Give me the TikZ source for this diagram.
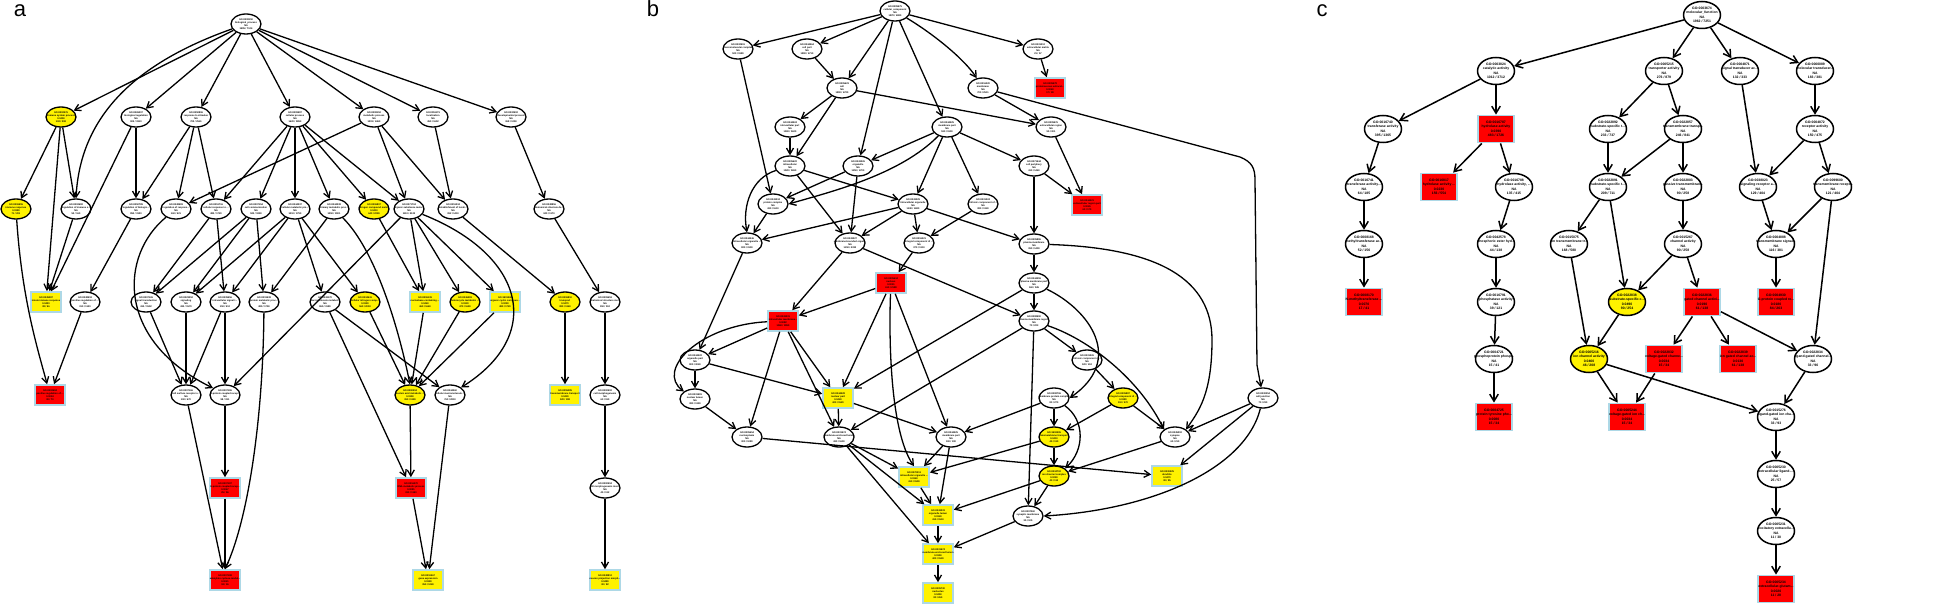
\documentclass[tikz,border=0pt]{standalone}
\usepackage{fontspec}
\setmainfont{Liberation Sans}
\usetikzlibrary{shapes.geometric,arrows.meta}
\definecolor{lblue}{RGB}{173,216,230}
\newcommand{\ga}[8]{\node[#1,label={[ta]center:{#5\\#6\\#7\\#8}}] (#2) at (#3,#4) {};}
\newcommand{\gc}[8]{\node[#1,label={[tc]center:{#5\\#6\\#7\\#8}}] (#2) at (#3,#4) {};}
\tikzset{
 ed/.style={-{Straight Barb[length=6pt,width=7pt]}, line width=1.3pt},
 edc/.style={-{Straight Barb[length=7pt,width=8.5pt]}, line width=1.5pt},
 ov/.style={ellipse, draw, line width=1.3pt, fill=white, minimum width=30pt, minimum height=20pt, inner sep=0pt},
 ovy/.style={ov, fill=yellow},
 rb/.style={rectangle, draw=lblue, line width=1.6pt, fill=red, minimum width=30pt, minimum height=20pt, inner sep=0pt},
 yb/.style={rb, fill=yellow},
 ovc/.style={ov, line width=1.5pt, minimum width=37pt, minimum height=27pt},
 ovcy/.style={ovc, fill=yellow},
 rbc/.style={rb, line width=1.8pt, minimum width=36pt, minimum height=27pt},
 ta/.style={font=\fontsize{2.4}{3.0}\selectfont\bfseries, align=center, inner sep=0pt},
 tc/.style={font=\fontsize{3.4}{4.4}\selectfont\bfseries, align=center, inner sep=0pt},
 plab/.style={font=\fontsize{22}{22}\selectfont, anchor=base, inner sep=0pt}
}
\begin{document}
\begin{tikzpicture}[x=1pt,y=-1pt]
\fill[white] (0,0) rectangle (1947,604);
\useasboundingbox (0,0) rectangle (1947,604);
\node[plab] (la) at (20,17) {a};
\node[plab] (lb) at (653,17) {b};
\node[plab] (lc) at (1322,17) {c};
% ---------------- panel a ----------------
\ga{ov}{aR}{246}{24}{GO:0008150}{biological\_process}{NA}{1985 / 7124}
\ga{ovy}{a2a}{61}{117}{GO:0002376}{immune system process}{0.0450}{102 / 298}
\ga{ov}{a2b}{136}{117}{GO:0065007}{biological regulation}{NA}{903 / 3310}
\ga{ov}{a2c}{196}{117}{GO:0050896}{response to stimulus}{NA}{702 / 2541}
\ga{ov}{a2d}{295}{117}{GO:0009987}{cellular process}{NA}{1620 / 5893}
\ga{ov}{a2e}{374}{117}{GO:0008152}{metabolic process}{NA}{1203 / 4460}
\ga{ov}{a2f}{433}{117}{GO:0051179}{localization}{NA}{450 / 1602}
\ga{ov}{a2g}{511}{117}{GO:0032502}{developmental process}{NA}{368 / 1250}
\ga{ovy}{a3a}{16}{209}{GO:0006955}{immune response}{0.0380}{71 / 201}
\ga{ov}{a3b}{76}{209}{GO:0002682}{regulation of immune s...}{NA}{52 / 160}
\ga{ov}{a3c}{136}{209}{GO:0050789}{regulation of biologic...}{NA}{850 / 3120}
\ga{ov}{a3d}{176}{209}{GO:0048583}{regulation of respons...}{NA}{160 / 521}
\ga{ov}{a3e}{216}{209}{GO:0051716}{cellular response to ...}{NA}{480 / 1720}
\ga{ov}{a3f}{256}{209}{GO:0007154}{cell communication}{NA}{520 / 1890}
\ga{ov}{a3g}{295}{209}{GO:0044237}{cellular metabolic pro...}{NA}{1010 / 3790}
\ga{ov}{a3h}{334}{209}{GO:0044238}{primary metabolic proc...}{NA}{1050 / 3901}
\ga{ovy}{a3i}{374}{209}{GO:0006807}{nitrogen compound meta...}{0.0410}{640 / 2299}
\ga{ov}{a3j}{409}{209}{GO:0071704}{organic substance meta...}{NA}{1110 / 4120}
\ga{ov}{a3k}{453}{209}{GO:0051234}{establishment of locali...}{NA}{392 / 1410}
\ga{ov}{a3l}{549}{209}{GO:0048856}{anatomical structure de...}{NA}{340 / 1170}
\ga{yb}{a4a}{46}{302}{GO:0045087}{innate immune response}{0.0420}{38 / 96}
\ga{ov}{a4b}{85}{302}{GO:0048518}{positive regulation of ...}{NA}{310 / 1100}
\ga{ov}{a4c}{146}{302}{GO:0007165}{signal transduction}{NA}{410 / 1502}
\ga{ov}{a4d}{186}{302}{GO:0023052}{signaling}{NA}{430 / 1570}
\ga{ov}{a4e}{225}{302}{GO:0035556}{intracellular signal t...}{NA}{150 / 512}
\ga{ov}{a4f}{264}{302}{GO:0019538}{protein metabolic proc...}{NA}{480 / 1750}
\ga{ov}{a4g}{325}{302}{GO:0043170}{macromolecule metabol...}{NA}{860 / 3180}
\ga{ovy}{a4h}{365}{302}{GO:0034641}{cellular nitrogen comp...}{0.0390}{560 / 2003}
\ga{yb}{a4i}{425}{302}{GO:0006139}{nucleobase-containing ...}{0.0460}{460 / 1660}
\ga{ovy}{a4j}{465}{302}{GO:0046483}{heterocycle metabolic ...}{0.0330}{470 / 1690}
\ga{yb}{a4k}{505}{302}{GO:1901360}{organic cyclic compoun...}{0.0290}{480 / 1720}
\ga{ovy}{a4l}{565}{302}{GO:0006810}{transport}{0.0470}{380 / 1360}
\ga{ov}{a4m}{605}{302}{GO:0009653}{anatomical structure mo...}{NA}{150 / 512}
\ga{rb}{a5a}{50}{395}{GO:0002684}{positive regulation of ...}{0.0094}{30 / 70}
\ga{ov}{a5b}{186}{395}{GO:0007166}{cell surface receptor s...}{NA}{190 / 670}
\ga{ov}{a5c}{225}{395}{GO:0007186}{G-protein coupled recep...}{NA}{98 / 331}
\ga{ovy}{a5d}{410}{395}{GO:0090304}{nucleic acid metabolic ...}{0.0350}{390 / 1399}
\ga{ov}{a5e}{450}{395}{GO:0044260}{cellular macromolecule ...}{NA}{760 / 2810}
\ga{yb}{a5f}{565}{395}{GO:0055085}{transmembrane transport}{0.0430}{120 / 398}
\ga{ov}{a5g}{605}{395}{GO:0000902}{cell morphogenesis}{NA}{60 / 190}
\ga{rb}{a6a}{225}{488}{GO:0007187}{G-protein coupled recep...}{0.0067}{25 / 56}
\ga{rb}{a6b}{411}{488}{GO:0016070}{RNA metabolic process}{0.0081}{330 / 1150}
\ga{ov}{a6c}{605}{488}{GO:0000904}{cell morphogenesis invo...}{NA}{45 / 132}
\ga{rb}{a7a}{225}{580}{GO:0007188}{adenylate cyclase-modul...}{0.0021}{18 / 36}
\ga{yb}{a7b}{428}{580}{GO:0010467}{gene expression}{0.0390}{350 / 1240}
\ga{yb}{a7c}{605}{580}{GO:0048812}{neuron projection morph...}{0.0480}{30 / 82}
\foreach \s/\t in {aR/a2a,aR/a2b,aR/a2c,aR/a2d,aR/a2e,aR/a2f,aR/a2g,
 a2a/a3a,a2a/a3b,a2a/a4a,a2b/a3c,a2b/a4a,a2c/a3c,a2c/a3d,a2c/a3e,
 a2d/a3e,a2d/a3f,a2d/a3g,a2d/a3h,a2d/a3i,a2d/a3j,a2e/a3d,a2e/a3j,a2e/a3k,
 a2f/a3k,a2g/a3l,a3b/a4a,a3c/a4b,a3e/a4c,a3e/a4e,a3f/a4c,a3f/a4d,a3f/a4f,
 a3g/a4d,a3g/a4e,a3g/a4g,a3g/a4h,a3h/a4f,a3i/a4i,a3j/a4i,a3j/a4j,a3j/a4k,a3j/a5c,
 a3k/a4l,a3l/a4m,a4b/a5a,a4c/a5b,a4d/a5b,a4e/a5b,a4e/a5c,a4g/a6b,a4g/a5e,
 a4h/a5d,a4i/a5d,a4j/a5d,a4k/a5d,a4l/a5f,a4m/a5g,a5b/a7a,a5c/a6a,a6a/a7a,
 a5d/a6b,a5e/a7b,a6b/a7b,a5g/a6c,a6c/a7c}
 \draw[ed] (\s) -- (\t);
\draw[ed] (aR) .. controls (130,65) and (80,120) .. (a3b.north);
\draw[ed] (a3d) .. controls (120,255) and (115,340) .. (a5c.150);
\draw[ed] (a4f) .. controls (263,420) and (248,520) .. (a7a.north);
\draw[ed] (a3j) .. controls (525,255) and (545,335) .. (a5e.north east);
\draw[ed] (a3h) .. controls (375,250) and (398,325) .. (a5d.north);
\draw[ed] (a3a) .. controls (22,300) and (38,350) .. (a5a);
% ---------------- panel b ----------------
\ga{ov}{bR}{895}{11}{GO:0005575}{cellular\_component}{NA}{1870 / 6980}
\ga{ov}{b2a}{738}{49}{GO:0032991}{macromolecular complex}{NA}{520 / 1980}
\ga{ov}{b2b}{807}{49}{GO:0044464}{cell part}{NA}{1800 / 6710}
\ga{ov}{b2c}{1038}{49}{GO:0031012}{extracellular matrix}{NA}{21 / 57}
\ga{ov}{b3a}{842}{88}{GO:0005623}{cell}{NA}{1800 / 6720}
\ga{ov}{b3b}{983}{88}{GO:0016020}{membrane}{NA}{700 / 2511}
\ga{rb}{b3c}{1050}{88}{GO:0005578}{proteinaceous extracel...}{0.0060}{17 / 38}
\ga{ov}{b4a}{790}{127}{GO:0044424}{intracellular part}{NA}{1500 / 5620}
\ga{ov}{b4b}{947}{127}{GO:0044425}{membrane part}{NA}{530 / 1900}
\ga{ov}{b4c}{1051}{127}{GO:0005576}{extracellular region}{NA}{95 / 301}
\ga{ov}{b5a}{790}{166}{GO:0005622}{intracellular}{NA}{1520 / 5690}
\ga{ov}{b5b}{858}{166}{GO:0043226}{organelle}{NA}{1250 / 4700}
\ga{ov}{b5c}{1034}{166}{GO:0071944}{cell periphery}{NA}{410 / 1460}
\ga{ov}{b6a}{773}{204}{GO:0043234}{protein complex}{NA}{430 / 1610}
\ga{ov}{b6b}{913}{204}{GO:0043229}{intracellular organelle}{NA}{1240 / 4680}
\ga{ov}{b6c}{983}{204}{GO:0031224}{intrinsic component of ...}{NA}{380 / 1340}
\ga{rb}{b6d}{1087}{205}{GO:0044421}{extracellular region part}{0.0045}{60 / 170}
\ga{ov}{b7a}{747}{243}{GO:0044446}{intracellular organelle ...}{NA}{820 / 3100}
\ga{ov}{b7b}{850}{243}{GO:0043227}{membrane-bounded organ...}{NA}{1150 / 4330}
\ga{ov}{b7c}{919}{243}{GO:0016021}{integral component of ...}{NA}{370 / 1310}
\ga{ov}{b7d}{1034}{244}{GO:0005886}{plasma membrane}{NA}{390 / 1400}
\ga{rb}{b8a}{891}{283}{GO:0005634}{nucleus}{0.0091}{610 / 2188}
\ga{ov}{b8b}{1034}{283}{GO:0044459}{plasma membrane part}{NA}{160 / 545}
\ga{rb}{b9a}{783}{321}{GO:0043231}{intracellular membrane...}{0.0082}{1060 / 3890}
\ga{ov}{b9b}{1034}{321}{GO:0098590}{plasma membrane region}{NA}{70 / 223}
\ga{ov}{b10a}{695}{360}{GO:0044422}{organelle part}{NA}{800 / 3040}
\ga{ov}{b10b}{1087}{360}{GO:0031226}{intrinsic component of ...}{NA}{120 / 412}
\ga{ov}{b11a}{695}{399}{GO:0031981}{nuclear lumen}{NA}{380 / 1390}
\ga{yb}{b11b}{838}{398}{GO:0044428}{nuclear part}{0.0440}{420 / 1520}
\ga{ov}{b11c}{1054}{398}{GO:0098796}{membrane protein complex}{NA}{80 / 270}
\ga{ovy}{b11d}{1123}{398}{GO:0005887}{integral component of ...}{0.0380}{110 / 370}
\ga{ov}{b11e}{1263}{398}{GO:0030054}{cell junction}{NA}{70 / 230}
\ga{ov}{b12a}{747}{437}{GO:0005654}{nucleoplasm}{NA}{300 / 1080}
\ga{ov}{b12b}{839}{437}{GO:0031974}{membrane-enclosed lumen}{NA}{430 / 1600}
\ga{ov}{b12c}{951}{437}{GO:0044425}{membrane part}{NA}{100 / 330}
\ga{ovy}{b12d}{1054}{437}{GO:1902495}{transmembrane transpor...}{0.0410}{45 / 130}
\ga{ov}{b12e}{1175}{437}{GO:0045202}{synapse}{NA}{65 / 210}
\ga{yb}{b13a}{914}{477}{GO:0070013}{intracellular organelle ...}{0.0360}{410 / 1500}
\ga{ovy}{b13b}{1054}{476}{GO:0034702}{ion channel complex}{0.0290}{40 / 110}
\ga{yb}{b13c}{1167}{476}{GO:0030425}{dendrite}{0.0470}{30 / 85}
\ga{yb}{b14a}{938}{515}{GO:0043233}{organelle lumen}{0.0340}{415 / 1510}
\ga{ov}{b14b}{1028}{516}{GO:0097060}{synaptic membrane}{NA}{35 / 105}
\ga{yb}{b15a}{938}{554}{GO:0031974}{membrane-enclosed lumen}{0.0350}{420 / 1530}
\ga{yb}{b16a}{938}{593}{GO:0005730}{nucleolus}{0.0450}{80 / 260}
\foreach \s/\t in {bR/b2a,bR/b2b,bR/b3a,bR/b5b,bR/b4b,bR/b2c,
 b2a/b6a,b2b/b3a,b3a/b4a,b3a/b5a,b3a/b4c,b2c/b3c,b3b/b4c,
 b4b/b5b,b4b/b6b,b4b/b6c,b4b/b5c,b4a/b5a,b4c/b6d,b5c/b6d,b5c/b7d,
 b5a/b6b,b5a/b7b,b5b/b6a,b5b/b7b,b6a/b7a,b6b/b7a,b6b/b7b,b6b/b7c,b6b/b7d,
 b6c/b7c,b7c/b8a,b7d/b8b,b7a/b10a,b7b/b9a,b7b/b9b,b8a/b9a,b8a/b11b,b8a/b12c,
 b8b/b9b,b8b/b11b,b9a/b10a,b9a/b12a,b9a/b11b,b9a/b12b,b10a/b11a,b10a/b11b,
 b11a/b12a,b9b/b10b,b9b/b14b,b9b/b12b,b10b/b11d,b11b/b12b,b11b/b12c,
 b11c/b12d,b11c/b12c,b11d/b12d,b11d/b12e,b12a/b13c,b12b/b13a,b12b/b14a,b12b/b15a,
 b12c/b13a,b12c/b14a,b12d/b13b,b12d/b13a,b12e/b13b,b13a/b14a,b13b/b14b,b13b/b14a,
 b14a/b15a,b14b/b15a,b15a/b16a,b11e/b12e,b11e/b13c}
 \draw[ed] (\s) -- (\t);
\draw[ed] (bR) .. controls (935,35) and (965,60) .. (b3b);
\draw[ed] (b4b) .. controls (900,175) and (830,192) .. (b6a.east);
\draw[ed] (b5a) .. controls (752,178) and (742,205) .. (b7a.north);
\draw[ed] (b9a) .. controls (700,325) and (655,370) .. (b11a.north west);
\draw[ed] (b8a) .. controls (889,330) and (889,430) .. (b13a.north);
\draw[ed] (b7d) .. controls (1160,248) and (1212,280) .. (1212,340) .. controls (1212,395) and (1198,412) .. (b12e.north east);
\draw[ed] (b9b) .. controls (1090,340) and (1140,380) .. (b12e.north west);
\draw[ed] (b8b) .. controls (1090,310) and (1125,360) .. (b11c.east);
\draw[ed] (b11c) .. controls (1085,420) and (1085,450) .. (b13b.north east);
\draw[ed] (b11e) .. controls (1245,470) and (1150,510) .. (b14b.east);
\draw[ed] (b3b) -- (1240,157) .. controls (1252,162) and (1255,168) .. (1255,180) -- (1257,365) -- (b11e);
% ---------------- panel c ----------------
\gc{ovc}{cR}{1702}{15}{GO:0003674}{molecular\_function}{NA}{1962 / 7251}
\gc{ovc}{c2a}{1496}{71}{GO:0003824}{catalytic activity}{NA}{1012 / 3712}
\gc{ovc}{c2b}{1664}{71}{GO:0005215}{transporter activity}{NA}{276 / 879}
\gc{ovc}{c2c}{1740}{71}{GO:0004871}{signal transducer ac...}{NA}{132 / 333}
\gc{ovc}{c2d}{1815}{71}{GO:0060089}{molecular transducer...}{NA}{183 / 381}
\gc{ovc}{c3a}{1383}{129}{GO:0016740}{transferase activity}{NA}{395 / 1365}
\gc{rbc}{c3b}{1496}{129}{GO:0016787}{hydrolase activity}{0.0390}{483 / 1726}
\gc{ovc}{c3c}{1608}{129}{GO:0022892}{substrate-specific t...}{NA}{233 / 737}
\gc{ovc}{c3d}{1683}{129}{GO:0022857}{transmembrane transp...}{NA}{246 / 841}
\gc{ovc}{c3e}{1815}{129}{GO:0004872}{receptor activity}{NA}{150 / 475}
\gc{ovc}{c4a}{1364}{187}{GO:0016741}{transferase activity...}{NA}{64 / 185}
\gc{rbc}{c4b}{1439}{187}{GO:0016817}{hydrolase activity ...}{0.0230}{156 / 554}
\gc{ovc}{c4c}{1514}{187}{GO:0016788}{hydrolase activity, ...}{NA}{135 / 415}
\gc{ovc}{c4d}{1608}{187}{GO:0022891}{substrate-specific t...}{NA}{209 / 711}
\gc{ovc}{c4e}{1683}{187}{GO:0022803}{passive transmembran...}{NA}{90 / 258}
\gc{ovc}{c4f}{1758}{187}{GO:0038023}{signaling receptor a...}{NA}{129 / 404}
\gc{ovc}{c4g}{1833}{187}{GO:0099600}{transmembrane recept...}{NA}{121 / 404}
\gc{ovc}{c5a}{1364}{244}{GO:0008168}{methyltransferase ac...}{NA}{52 / 156}
\gc{ovc}{c5b}{1496}{244}{GO:0042578}{phosphoric ester hyd...}{NA}{44 / 138}
\gc{ovc}{c5c}{1569}{244}{GO:0015075}{ion transmembrane tr...}{NA}{168 / 580}
\gc{ovc}{c5d}{1683}{244}{GO:0015267}{channel activity}{NA}{90 / 258}
\gc{ovc}{c5e}{1776}{244}{GO:0004888}{transmembrane signal...}{NA}{116 / 381}
\gc{rbc}{c6a}{1364}{302}{GO:0008170}{N-methyltransferase ...}{0.0070}{17 / 41}
\gc{ovc}{c6b}{1496}{302}{GO:0016791}{phosphatase activity}{NA}{39 / 121}
\gc{ovcy}{c6c}{1627}{302}{GO:0022838}{substrate-specific c...}{0.0490}{90 / 254}
\gc{rbc}{c6d}{1702}{302}{GO:0022836}{gated channel activi...}{0.0190}{61 / 138}
\gc{rbc}{c6e}{1776}{302}{GO:0004930}{G-protein coupled re...}{0.0180}{84 / 263}
\gc{ovc}{c7a}{1494}{359}{GO:0004721}{phosphoprotein phosp...}{NA}{15 / 41}
\gc{ovcy}{c7b}{1589}{359}{GO:0005216}{ion channel activity}{0.0460}{46 / 208}
\gc{rbc}{c7c}{1664}{359}{GO:0022832}{voltage-gated channe...}{0.0034}{15 / 34}
\gc{rbc}{c7d}{1738}{359}{GO:0022839}{ion gated channel ac...}{0.0130}{61 / 138}
\gc{ovc}{c7e}{1813}{359}{GO:0022834}{ligand-gated channel...}{NA}{33 / 96}
\gc{rbc}{c8a}{1494}{417}{GO:0004725}{protein tyrosine pho...}{0.0080}{15 / 34}
\gc{rbc}{c8b}{1627}{417}{GO:0005244}{voltage-gated ion ch...}{0.0034}{15 / 34}
\gc{ovc}{c8c}{1776}{417}{GO:0015276}{ligand-gated ion cha...}{NA}{33 / 93}
\gc{ovc}{c9}{1776}{474}{GO:0005230}{extracellular ligand-...}{NA}{25 / 57}
\gc{ovc}{c10}{1776}{531}{GO:0005231}{excitatory extracellu...}{NA}{11 / 30}
\gc{rbc}{c11}{1776}{589}{GO:0005234}{extracellular-glutam...}{0.0020}{11 / 28}
\foreach \s/\t in {cR/c2a,cR/c2b,cR/c2c,cR/c2d,c2a/c3a,c2a/c3b,c3a/c4a,c4a/c5a,c5a/c6a,
 c3b/c4b,c3b/c4c,c4c/c5b,c5b/c6b,c6b/c7a,c7a/c8a,c2b/c3c,c2b/c3d,c3c/c4d,c3d/c4d,c3d/c4e,
 c4d/c5c,c4d/c6c,c4e/c5d,c5d/c6c,c5d/c6d,c5c/c7b,c6c/c7b,c6d/c7c,c6d/c7d,c6d/c7e,
 c7b/c8b,c7b/c8c,c7c/c8b,c7e/c8c,c2c/c4f,c2d/c3e,c3e/c4f,c3e/c4g,c4f/c5e,c4g/c5e,c4g/c7e,
 c5e/c6e,c8c/c9,c9/c10,c10/c11}
 \draw[edc] (\s) -- (\t);
\end{tikzpicture}
\end{document}
